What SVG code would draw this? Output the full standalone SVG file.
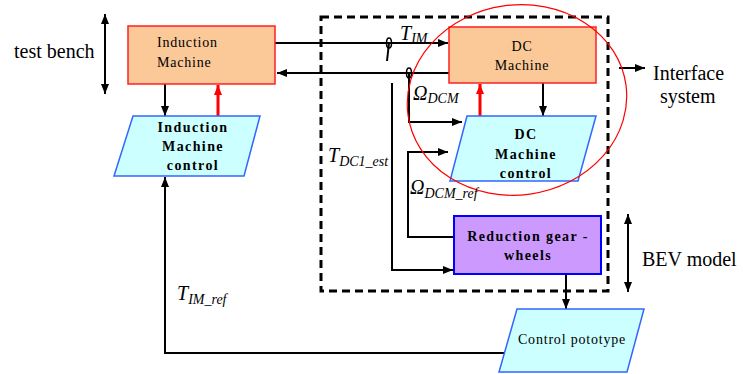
<svg xmlns="http://www.w3.org/2000/svg" width="743" height="374" viewBox="0 0 743 374" font-family="'Liberation Serif', 'DejaVu Serif', serif">
<defs>
<marker id="ah" markerWidth="10" markerHeight="8" refX="10" refY="4" orient="auto" markerUnits="userSpaceOnUse"><path d="M0,0 L10,4 L0,8 Z" fill="#000"/></marker>
<marker id="ahr" markerWidth="10" markerHeight="8" refX="10" refY="4" orient="auto" markerUnits="userSpaceOnUse"><path d="M0,0 L10,4 L0,8 Z" fill="#f00"/></marker>
<marker id="ahs" markerWidth="10" markerHeight="8" refX="0" refY="4" orient="auto" markerUnits="userSpaceOnUse"><path d="M10,0 L0,4 L10,8 Z" fill="#000"/></marker>
</defs>
<style>
text{fill:#000}
.lbl{font-size:14px;letter-spacing:0.8px}
.b{font-size:14px;font-weight:bold;letter-spacing:1.4px}
.big{font-size:20px}
.it{font-style:italic;font-size:20px}
.sub{font-style:italic;font-size:14px}
.orange{fill:#FBC898;stroke:#FF2020;stroke-width:1.5}
.cyan{fill:#CCFFFF;stroke:#3366FF;stroke-width:1.5}
.purple{fill:#CC99FF;stroke:#0000FF;stroke-width:2}
.c{fill:none;stroke:#000;stroke-width:2}
.cr{fill:none;stroke:#f00;stroke-width:3}
</style>
<rect x="321" y="17" width="287" height="274" fill="none" stroke="#000" stroke-width="3" stroke-dasharray="8,5"/>
<g id="connectors">
<line class="c" x1="275" y1="43" x2="448" y2="43" marker-end="url(#ah)"/>
<ellipse cx="389" cy="43" rx="2.5" ry="5" fill="none" stroke="#000" stroke-width="1.5"/>
<line class="c" x1="389" y1="43" x2="387" y2="61"/>
<line class="c" stroke-width="2.5" x1="449" y1="73" x2="277" y2="73" marker-end="url(#ah)"/>
<ellipse cx="409" cy="73" rx="2.5" ry="5" fill="none" stroke="#000" stroke-width="1.5"/>
<polyline class="c" points="409,73 409,122 462,122" marker-end="url(#ah)"/>
<polyline class="c" stroke-width="1.5" points="392,83 392,270 453,270" marker-end="url(#ah)"/>
<polyline class="c" stroke-width="1.5" points="454,237 408,237 408,152 448,152" marker-end="url(#ah)"/>
<line class="c" stroke-width="2.5" x1="165" y1="84" x2="165" y2="116" marker-end="url(#ah)"/>
<line class="cr" x1="218" y1="116" x2="218" y2="85" marker-end="url(#ahr)"/>
<line class="cr" x1="480" y1="116" x2="480" y2="84" marker-end="url(#ahr)"/>
<line class="c" stroke-width="2.5" x1="543" y1="83" x2="543" y2="116" marker-end="url(#ah)"/>
<line class="c" stroke-width="2.5" x1="566" y1="274" x2="566" y2="309" marker-end="url(#ah)"/>
<polyline class="c" stroke-width="3" points="508,353 165,353 165,177" marker-end="url(#ah)"/>
<line class="c" stroke-width="2.5" x1="619" y1="68" x2="645" y2="68" marker-end="url(#ah)"/>
<line class="c" stroke-width="2.5" x1="105" y1="14" x2="105" y2="94" marker-start="url(#ahs)" marker-end="url(#ah)"/>
<line class="c" stroke-width="2.5" x1="628" y1="214" x2="628" y2="292" marker-start="url(#ahs)" marker-end="url(#ah)"/>
</g>
<g id="induction-machine">
<rect class="orange" x="128" y="26" width="147" height="58"/>
<text class="lbl" x="157" y="47">Induction</text>
<text class="lbl" x="157" y="67">Machine</text>
</g>
<g id="induction-machine-control">
<polygon class="cyan" points="133,116 260,116 244,176 114,176"/>
<text class="b" x="193" y="132" text-anchor="middle">Induction</text>
<text class="b" x="193" y="151" text-anchor="middle">Machine</text>
<text class="b" x="193" y="170" text-anchor="middle">control</text>
</g>
<g id="dc-machine">
<rect class="orange" x="449" y="27" width="147" height="56"/>
<text class="lbl" x="522" y="51" text-anchor="middle">DC</text>
<text class="lbl" x="522" y="70" text-anchor="middle">Machine</text>
</g>
<g id="dc-machine-control">
<polygon class="cyan" points="467,116 596,116 578,181 450,181"/>
<text class="b" x="526" y="139" text-anchor="middle">DC</text>
<text class="b" x="526" y="159" text-anchor="middle">Machine</text>
<text class="b" x="526" y="178" text-anchor="middle">control</text>
</g>
<g id="reduction-gear">
<rect class="purple" x="454" y="216" width="147" height="58"/>
<text class="b" x="528" y="241" text-anchor="middle">Reduction gear -</text>
<text class="b" x="528" y="260" text-anchor="middle">wheels</text>
</g>
<g id="control-prototype">
<polygon class="cyan" points="517,309 644,309 627,372 499,372"/>
<text class="lbl" x="572" y="344" text-anchor="middle">Control pototype</text>
</g>
<g id="highlight">
<ellipse cx="517" cy="100" rx="110" ry="95" fill="none" stroke="#f00" stroke-width="1.2" transform="rotate(-8 517 100)"/>
</g>
<g id="labels">
<text class="big" x="14" y="58">test bench</text>
<text class="big" x="653" y="80">Interface</text>
<text class="big" x="660" y="103">system</text>
<text class="big" x="642" y="266">BEV model</text>
<text x="400" y="40"><tspan class="it">T</tspan><tspan class="sub" dy="3">IM</tspan></text>
<text x="413" y="100"><tspan class="it">Ω</tspan><tspan class="sub" dy="3">DCM</tspan></text>
<text x="328" y="162"><tspan class="it">T</tspan><tspan class="sub" dy="4">DC1_est</tspan></text>
<text x="410" y="194"><tspan class="it">Ω</tspan><tspan class="sub" dy="4">DCM_ref</tspan></text>
<text x="177" y="300"><tspan class="it">T</tspan><tspan class="sub" dy="4">IM_ref</tspan></text>
</g>
</svg>
